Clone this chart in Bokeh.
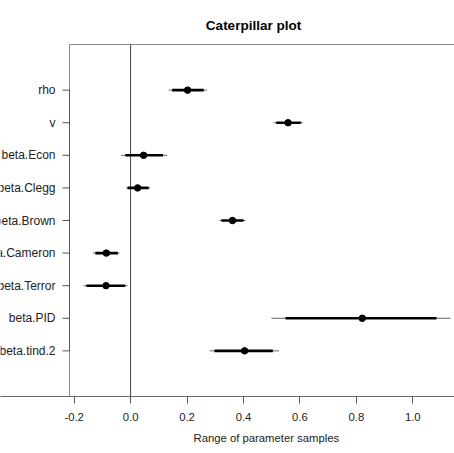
from bokeh.plotting import figure
from bokeh.models import (Range1d, LinearAxis, FixedTicker, Label, Title,
                          ColumnDataSource)
from bokeh.embed import file_html
from bokeh.resources import INLINE

# ---- data ----
names = ["rho", "v", "beta.Econ", "beta.Clegg", "beta.Brown",
         "beta.Cameron", "beta.Terror", "beta.PID", "beta.tind.2"]
median = [0.202, 0.558, 0.046, 0.025, 0.361, -0.086, -0.087, 0.821, 0.404]
lo_outer = [0.135, 0.507, -0.033, -0.015, 0.315, -0.133, -0.167, 0.499, 0.280]
hi_outer = [0.271, 0.611, 0.129, 0.070, 0.407, -0.039, -0.011, 1.134, 0.526]
lo_inner = [0.147, 0.516, -0.019, -0.011, 0.322, -0.125, -0.157, 0.549, 0.297]
hi_inner = [0.259, 0.603, 0.115, 0.064, 0.400, -0.045, -0.019, 1.084, 0.504]
x_ticks = [-0.2, 0.0, 0.2, 0.4, 0.6, 0.8, 1.0]
title_text = "Caterpillar plot"
x_label = "Range of parameter samples"

ypos = list(range(len(names), 0, -1))
src = ColumnDataSource(dict(y=ypos, med=median, lo_o=lo_outer, hi_o=hi_outer,
                            lo_i=lo_inner, hi_i=hi_inner))

FONT = "Liberation Sans"
W, H = 454, 453
FRAME_BOTTOM = 396          # canvas y of the x axis
BOX_LEFT_PX, BOX_TOP_PX = 69, 44
PX_PER_X = 282.2            # pixels per x unit
X0_PX = 130.1               # canvas x of value 0
# plot box in data units (R style: 4% padding)
ylim = (-0.4, 10.4)
PX_PER_Y = (FRAME_BOTTOM - BOX_TOP_PX) / (ylim[1] - ylim[0])
xlim0 = (BOX_LEFT_PX - X0_PX) / PX_PER_X
# the drawing frame covers the whole page except the bottom axis panel,
# so that the long row names run off the left page edge as in the reference
x_start = -X0_PX / PX_PER_X
x_end = (W - X0_PX) / PX_PER_X
y_end = ylim[1] + BOX_TOP_PX / PX_PER_Y

p = figure(width=W, height=H, output_backend="svg", toolbar_location=None,
           x_range=Range1d(x_start, x_end), y_range=Range1d(ylim[0], y_end),
           x_axis_location=None, y_axis_location=None,
           min_border_left=0, min_border_right=0, min_border_top=0,
           min_border_bottom=H - FRAME_BOTTOM)
p.grid.visible = False
p.background_fill_color = "white"
p.border_fill_color = "white"
p.outline_line_color = None

# bottom axis
xa = LinearAxis(ticker=FixedTicker(ticks=x_ticks))
xa.axis_line_color = "#6a6a6a"
xa.major_tick_line_color = "#555555"
xa.major_tick_out = 7
xa.major_tick_in = 0
xa.minor_tick_line_color = None
xa.major_label_standoff = 9
xa.major_label_text_font = FONT
xa.major_label_text_font_size = "11.3px"
xa.major_label_text_color = "#222222"
xa.major_label_overrides = {t: f"{t:.1f}" for t in x_ticks}
p.add_layout(xa, "below")

xt = Title(text=x_label, align="left", offset=193, text_font=FONT,
           text_font_size="11.3px", text_font_style="normal",
           text_color="#222222", standoff=12)
p.add_layout(xt, "below")

# plot box (left and top sides; bottom is the axis line)
p.segment(x0=[xlim0, xlim0], y0=[ylim[0], ylim[1]], x1=[xlim0, x_end + 1],
          y1=[ylim[1], ylim[1]], line_color="#8a8a8a", line_width=1)

# left axis: rule from first to last row and outward ticks
tick_len = 7 / PX_PER_X
p.segment(x0=xlim0, y0=min(ypos), x1=xlim0, y1=max(ypos),
          line_color="#555555", line_width=1)
p.segment(x0=[xlim0 - tick_len] * len(ypos), x1=[xlim0] * len(ypos),
          y0=ypos, y1=ypos, line_color="#555555", line_width=1)

for yv, nm in zip(ypos, names):
    p.add_layout(Label(x=55, y=yv, x_units="screen", y_units="data", text=nm,
                       text_align="right", text_baseline="middle",
                       text_font=FONT, text_font_size="12px",
                       text_color="#222222"))

# zero reference line inside the box
p.segment(x0=0, x1=0, y0=ylim[0], y1=ylim[1], line_color="#444444",
          line_width=1)

p.segment(x0="lo_o", x1="hi_o", y0="y", y1="y", source=src,
          line_color="#666666", line_width=1)
p.segment(x0="lo_i", x1="hi_i", y0="y", y1="y", source=src,
          line_color="black", line_width=2.6)
p.scatter(x="med", y="y", source=src, size=6.5, fill_color="black",
          line_color="black")

p.add_layout(Label(x=253, y=FRAME_BOTTOM - 25, x_units="screen",
                   y_units="screen", text=title_text, text_align="center",
                   text_baseline="alphabetic", text_font=FONT,
                   text_font_size="13.5px", text_font_style="bold",
                   text_color="black"))

open("out.html", "w").write(file_html(p, INLINE))
